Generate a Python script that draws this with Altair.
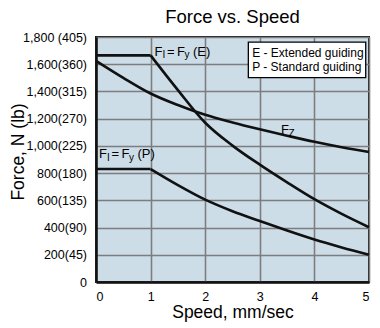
import altair as alt
import pandas as pd

# ---- data ----
speed_flat = [0, 1]
e_flat = [1665, 1665]
p_flat = [830, 830]

speed_curve = [1, 1.5, 2, 2.5, 3, 3.5, 4, 4.5, 5]
e_curve = [1665, 1410, 1170, 1002, 862, 732, 608, 500, 402]
p_curve = [830, 712, 605, 520, 448, 378, 312, 254, 201]

speed_fz = [0, 0.5, 1, 1.5, 2, 2.5, 3, 3.5, 4, 4.5, 5]
fz_curve = [1625, 1500, 1385, 1300, 1228, 1172, 1122, 1075, 1030, 990, 955]

y_ticks = [0, 200, 400, 600, 800, 1000, 1200, 1400, 1600, 1800]
y_labels = ["0", "200(45)", "400(90)", "600(135)", "800(180)", "1,000(225)",
            "1,200(270)", "1,400(315)", "1,600(360)", "1,800 (405)"]
x_ticks = [0, 1, 2, 3, 4, 5]

legend_lines = ["E - Extended guiding", "P - Standard guiding"]
chart_title = "Force vs. Speed"

SANS = "Liberation Sans, Arial, sans-serif"

rows = []
for seg, xs, ys in [("E_flat", speed_flat, e_flat), ("E_curve", speed_curve, e_curve),
                    ("P_flat", speed_flat, p_flat), ("P_curve", speed_curve, p_curve),
                    ("Fz", speed_fz, fz_curve)]:
    for xv, yv in zip(xs, ys):
        rows.append({"seg": seg, "speed": xv, "force": yv})
df = pd.DataFrame(rows)

xscale = alt.Scale(domain=[0, 5], nice=False, zero=False)
yscale = alt.Scale(domain=[0, 1800], nice=False, zero=False)

label_expr = ""
for v, l in zip(y_ticks, y_labels):
    label_expr += f"datum.value == {v} ? '{l}' : "
label_expr += "''"

x_axis = alt.Axis(values=x_ticks, title="Speed, mm/sec", format="d", labelOverlap=False,
                  titleX=136.5, titleY=35.5, titleAlign="center", titleBaseline="alphabetic")
y_axis = alt.Axis(values=y_ticks, title="Force, N (lb)", labelExpr=label_expr, labelOverlap=False,
                  titleX=-73, titleY=114.5, titleAlign="center", titleBaseline="alphabetic",
                  titleAngle=270)


def xq(field):
    return alt.X(field, type="quantitative", scale=xscale, axis=x_axis)


def yq(field):
    return alt.Y(field, type="quantitative", scale=yscale, axis=y_axis)


lines = alt.Chart(df).mark_line(color="#111111", strokeWidth=2.6, interpolate="monotone").encode(
    x=xq("speed"), y=yq("force"), detail="seg:N")

# legend box
box_df = pd.DataFrame({"x": [2.79], "x2": [4.94], "y": [1502], "y2": [1763]})
box = alt.Chart(box_df).mark_rect(fill="white", stroke="black", strokeWidth=1.3).encode(
    x=xq("x"), x2="x2:Q", y=yq("y"), y2="y2:Q")

legend_df = pd.DataFrame({"x": [2.86, 2.86], "y": [1653, 1552], "t": legend_lines})
legend_text = alt.Chart(legend_df).mark_text(align="left", baseline="alphabetic", font=SANS,
                                             fontSize=12, color="black").encode(
    x=xq("x"), y=yq("y"), text="t:N")

title_df = pd.DataFrame({"x": [2.5], "y": [1900], "t": [chart_title]})
title_text = alt.Chart(title_df).mark_text(align="center", baseline="alphabetic", font=SANS,
                                           fontSize=18.5, color="black").encode(
    x=xq("x"), y=yq("y"), text="t:N")

# curve labels: (anchor x, anchor y, text, dx, dy, size)
pieces = []
for ax, ay, tag in [(1.07, 1663, "(E)"), (0.054, 911, "(P)")]:
    pieces += [(ax, ay, "F", 0, 0, 13), (ax, ay, "I", 8, 2.5, 10), (ax, ay, "=", 12.5, 0, 13),
               (ax, ay, "F", 22.5, 0, 13), (ax, ay, "y", 30, 2.5, 10), (ax, ay, tag, 38.5, 0, 13)]
pieces += [(3.39, 1090, "F", 0, 0, 13), (3.39, 1090, "Z", 7.5, 3.5, 10)]

label_layers = []
for ax, ay, t, dx, dy, sz in pieces:
    label_layers.append(
        alt.Chart(pd.DataFrame({"x": [ax], "y": [ay], "t": [t]})).mark_text(
            align="left", baseline="alphabetic", font=SANS, fontSize=sz, color="black",
            dx=dx, dy=dy).encode(x=xq("x"), y=yq("y"), text="t:N"))

chart = alt.layer(lines, box, legend_text, title_text, *label_layers).properties(
    width=273, height=245,
    autosize=alt.AutoSizeParams(type="none"),
    padding={"left": 88, "top": 29, "right": 3, "bottom": 40},
).configure_view(
    fill="#cddde8", stroke="#1a1a1a", strokeWidth=2
).configure_axis(
    grid=True, gridColor="#7d7d7d", gridWidth=1.6, gridOpacity=1,
    domainColor="#111111", domainWidth=2.5,
    ticks=True, tickSize=0,
    labelFont=SANS, labelFontSize=12.5, labelColor="black",
    titleFont=SANS, titleFontSize=17.5, titleFontWeight="normal", titleColor="black",
    labelOverlap=False,
).configure_axisX(
    labelPadding=8, labelBaseline="top",
).configure_axisY(
    labelPadding=9.5,
)

chart.save("out.html", embed_options={"renderer": "svg", "actions": False})
